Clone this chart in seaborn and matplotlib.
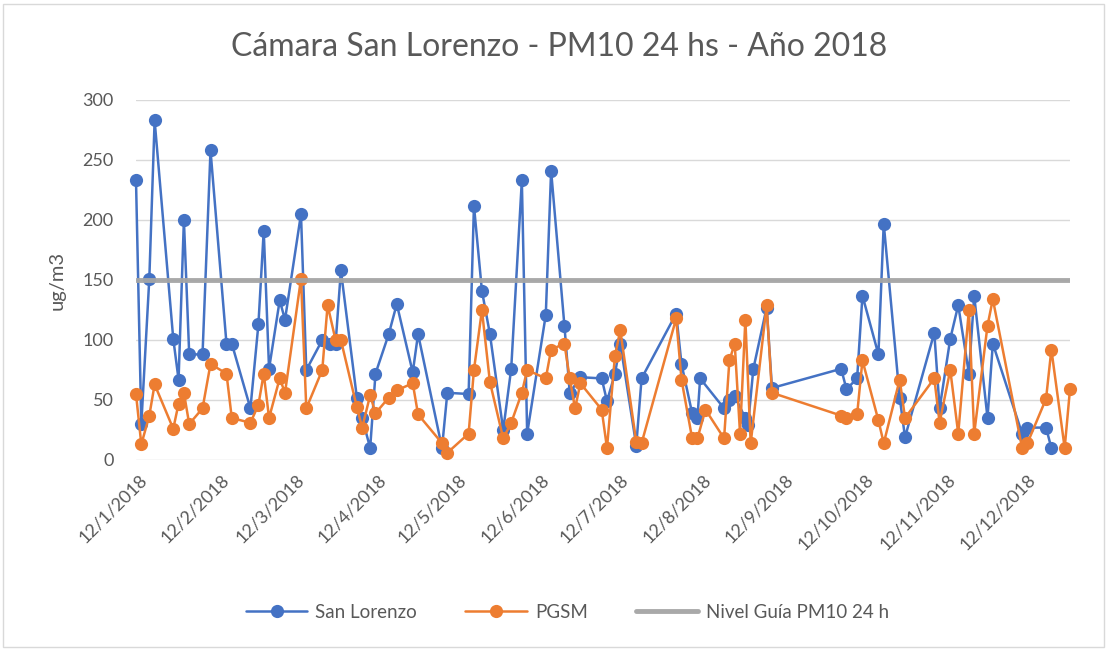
import numpy as np
import pandas as pd
import matplotlib
matplotlib.use("Agg")
import matplotlib.pyplot as plt
import matplotlib.transforms as mtransforms
import seaborn as sns
from matplotlib.patches import Rectangle

# ---------------- data ----------------
dates = [
    "2018-01-11", "2018-01-13", "2018-01-16", "2018-01-18", "2018-01-25", "2018-01-27",
    "2018-01-29", "2018-01-31", "2018-02-05", "2018-02-08", "2018-02-14", "2018-02-16",
    "2018-02-23", "2018-02-26", "2018-02-28", "2018-03-02", "2018-03-06", "2018-03-08",
    "2018-03-14", "2018-03-16", "2018-03-22", "2018-03-24", "2018-03-25", "2018-03-27",
    "2018-03-29", "2018-04-04", "2018-04-06", "2018-04-09", "2018-04-11", "2018-04-16",
    "2018-04-19", "2018-04-25", "2018-04-27", "2018-05-06", "2018-05-08", "2018-05-16",
    "2018-05-18", "2018-05-21", "2018-05-24", "2018-05-29", "2018-06-01", "2018-06-05",
    "2018-06-07", "2018-06-14", "2018-06-16", "2018-06-21", "2018-06-23", "2018-06-25",
    "2018-06-27", "2018-07-05", "2018-07-07", "2018-07-10", "2018-07-12", "2018-07-18",
    "2018-07-20", "2018-08-02", "2018-08-04", "2018-08-08", "2018-08-10", "2018-08-11",
    "2018-08-13", "2018-08-20", "2018-08-22", "2018-08-24", "2018-08-26", "2018-08-28",
    "2018-08-29", "2018-08-30", "2018-08-31", "2018-09-05", "2018-09-07", "2018-10-03",
    "2018-10-05", "2018-10-09", "2018-10-11", "2018-10-17", "2018-10-19", "2018-10-25",
    "2018-10-27", "2018-11-07", "2018-11-09", "2018-11-13", "2018-11-16", "2018-11-20",
    "2018-11-22", "2018-11-27", "2018-11-29", "2018-12-10", "2018-12-12", "2018-12-19",
    "2018-12-21", "2018-12-26", "2018-12-28",
]
nan = np.nan
san_lorenzo = [
    233, 30, 151, 283, 101, 67,
    200, 88, 88, 258, 97, 97,
    43, 113, 191, 76, 133, 117,
    205, 75, 100, nan, 97, 97,
    158, 52, 35, 10, 72, 105,
    130, 73, 105, 10, 56, 55,
    212, 141, 105, 25, 76, 233,
    22, 121, 241, 112, 56, nan,
    69, 68, 49, 72, 97, 12,
    68, 122, 80, 39, 35, 68,
    nan, 43, 50, 53, nan, 35,
    29, nan, 76, 127, 60, 76,
    59, 68, 137, 88, 197, 52,
    19, 106, 43, 101, 129, 72,
    137, 35, 97, 22, 27, 27,
    10, nan, nan,
]
pgsm = [
    55, 13, 37, 63, 26, 47,
    56, 30, 43, 80, 72, 35,
    31, 46, 72, 35, 68, 56,
    151, 43, 75, 129, nan, 100,
    100, 44, 27, 54, 39, 52,
    58, 64, 38, 14, 6, 22,
    75, 125, 65, 18, 31, 56,
    75, 68, 92, 97, 68, 43,
    64, 42, 10, 87, 108, 15,
    14, 118, 67, 18, 18, nan,
    42, 18, 83, 97, 22, 117,
    nan, 14, nan, 129, 56, 37,
    35, 38, 83, 33, 14, 67,
    35, 68, 31, 75, 22, 125,
    22, 112, 134, 10, 14, 51,
    92, 10, 59,
]
guide_level = 150
series_names = ["San Lorenzo", "PGSM", "Nivel Guía PM10 24 h"]
tick_labels = ["12/1/2018", "12/2/2018", "12/3/2018", "12/4/2018", "12/5/2018", "12/6/2018",
               "12/7/2018", "12/8/2018", "12/9/2018", "12/10/2018", "12/11/2018", "12/12/2018"]
y_ticks = [0, 50, 100, 150, 200, 250, 300]

# ---------------- style ----------------
sns.set_theme(style="white")
plt.rcParams["font.family"] = ["Lato", "DejaVu Sans"]
TXT = "#595959"
BLUE = "#4472C4"
ORANGE = "#ED7D31"
GREY = "#A5A5A5"

df = pd.DataFrame({"fecha": pd.to_datetime(dates), "sl": san_lorenzo, "pg": pgsm})

fig = plt.figure(figsize=(11.08, 6.51), dpi=100)
ax = fig.add_axes([136 / 1108, 1 - 460 / 651, (1070 - 136) / 1108, 360 / 651])

d1 = df.dropna(subset=["sl"])
d2 = df.dropna(subset=["pg"])
sns.lineplot(data=d1, x="fecha", y="sl", ax=ax, color=BLUE, linewidth=1.8,
             marker="o", markersize=9.5, markeredgewidth=0, label=series_names[0],
             zorder=3, clip_on=False)
sns.lineplot(data=d2, x="fecha", y="pg", ax=ax, color=ORANGE, linewidth=1.8,
             marker="o", markersize=9.5, markeredgewidth=0, label=series_names[1],
             zorder=4, clip_on=False)
guide = pd.DataFrame({"fecha": df["fecha"], "g": [guide_level] * len(df)})
sns.lineplot(data=guide, x="fecha", y="g", ax=ax, color=GREY, linewidth=3.5,
             label=series_names[2], zorder=5, alpha=0.95)

ax.set_xlim(df["fecha"].iloc[0], df["fecha"].iloc[-1])
ax.set_ylim(0, 300)
ax.set_yticks(y_ticks)
ax.yaxis.grid(True, color="#D9D9D9", linewidth=1)
ax.xaxis.grid(False)
for s in ax.spines.values():
    s.set_visible(False)

tick_pos = pd.to_datetime(tick_labels, format="%d/%m/%Y")
ax.set_xticks(tick_pos)
ax.set_xticklabels(tick_labels, rotation=45, ha="right", rotation_mode="anchor",
                   fontsize=13, color=TXT)
offset = mtransforms.ScaledTranslation(28 / 100, -8 / 100, fig.dpi_scale_trans)
for lab in ax.get_xticklabels():
    lab.set_transform(lab.get_transform() + offset)
ax.tick_params(axis="x", length=0, pad=8)
ax.tick_params(axis="y", length=0, pad=16, labelsize=13, labelcolor=TXT)
ax.set_xlabel("")
ax.set_ylabel("ug/m3", fontsize=14.5, color=TXT, labelpad=12)

fig.text(0.505, 1 - 47 / 651, "Cámara San Lorenzo - PM10 24 hs - Año 2018",
         ha="center", va="center", fontsize=23, color=TXT)

ax.get_legend().remove()
h, l = ax.get_legend_handles_labels()
fig.legend(h, l, loc="center", bbox_to_anchor=(0.512, 1 - 612 / 651), ncol=3,
           frameon=False, fontsize=13.5, labelcolor=TXT, handlelength=3.3,
           columnspacing=2.6, handletextpad=0.4)

fig.patches.append(Rectangle((3 / 1108, 4 / 651), 1 - 7 / 1108, 1 - 8 / 651,
                             transform=fig.transFigure, fill=False,
                             edgecolor="#D9D9D9", linewidth=1))

fig.savefig("out.png", dpi=100)
